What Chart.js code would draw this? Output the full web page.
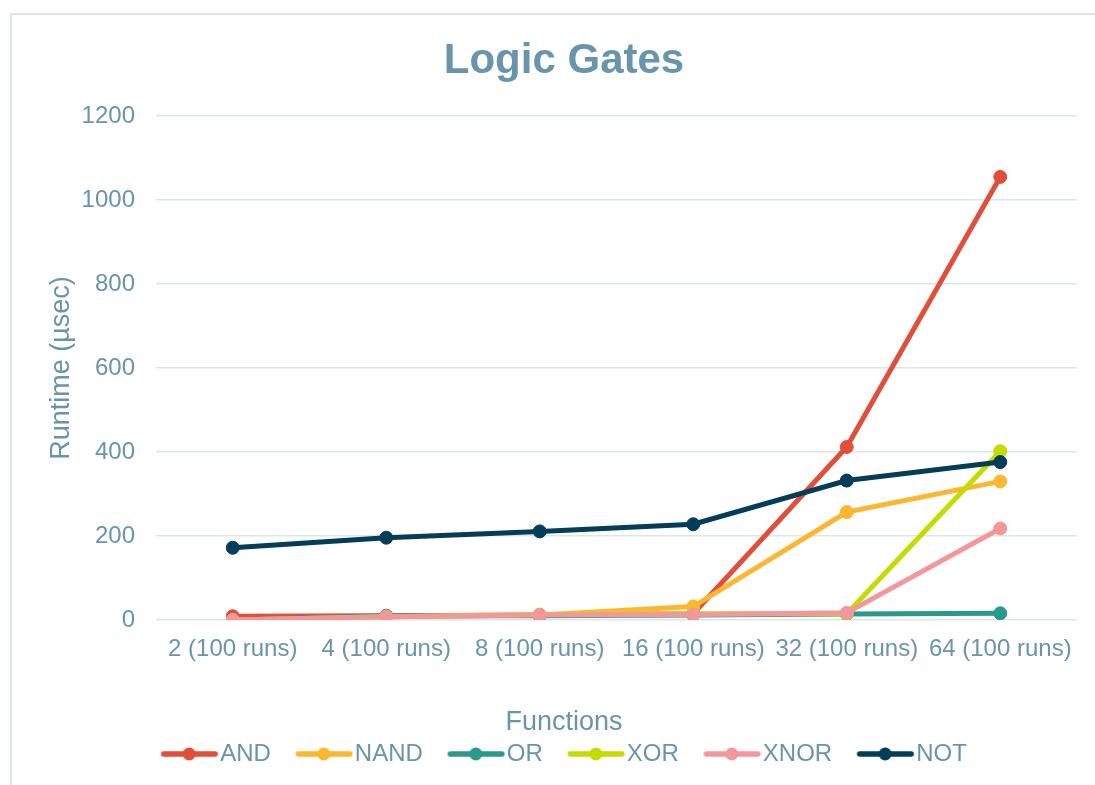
<!DOCTYPE html>
<html>
<head>
<meta charset="utf-8">
<title>Logic Gates</title>
<script src="https://cdn.jsdelivr.net/npm/chart.js@4/dist/chart.umd.min.js"></script>
<style>
  html, body { margin: 0; padding: 0; background: #ffffff; overflow: hidden; }
  body { width: 1095px; height: 785px; position: relative; }
  #frame {
    position: absolute; left: 10px; top: 13px; width: 1200px; height: 900px;
    border-left: 2px solid #dde6ee; border-top: 2px solid #dce6ea;
  }
  #wrap { position: absolute; left: 0; top: 0; width: 1095px; height: 785px; }
</style>
</head>
<body>
<div id="frame"></div>
<div id="wrap"><canvas id="chart" width="1095" height="785"></canvas></div>
<script>
// Benchmark runs per input size
const categories = ['2 (100 runs)', '4 (100 runs)', '8 (100 runs)', '16 (100 runs)', '32 (100 runs)', '64 (100 runs)'];

// Runtime in microseconds for each gate
const andValues  = [9, 10, 12, 15, 412, 1055];
const nandValues = [0, 8, 12, 32, 257, 330];
const orValues   = [0, 10, 10, 12, 14, 16];
const xorValues  = [0, 8, 13, 15, 15, 402];
const xnorValues = [0, 8, 12, 13, 17, 218];
const notValues  = [172, 196, 211, 228, 332, 376];

const seriesNames  = ['AND', 'NAND', 'OR', 'XOR', 'XNOR', 'NOT'];
const seriesValues = [andValues, nandValues, orValues, xorValues, xnorValues, notValues];
const seriesColors = ['#e14e39', '#fdb62f', '#29998a', '#c4dc00', '#f3979b', '#033d58'];

// Y axis tick settings
const yMin = 0, yMax = 1200, yStep = 200;

const textColor = '#6895ac';
const gridColor = '#dce5ea';
const fontFamily = '"Liberation Sans", Arial, sans-serif';

// Legend symbol: short line with a dot, shifted so the text sits close to it
function legendSymbol(color) {
  const c = document.createElement('canvas');
  c.width = 80; c.height = 16;
  const g = c.getContext('2d');
  g.strokeStyle = color;
  g.lineWidth = 5.5;
  g.lineCap = 'round';
  g.beginPath();
  g.moveTo(19, 8);
  g.lineTo(70.5, 8);
  g.stroke();
  g.fillStyle = color;
  g.beginPath();
  g.arc(44.5, 8, 6.5, 0, Math.PI * 2);
  g.fill();
  return c;
}
const symbols = seriesColors.map(legendSymbol);

const datasets = seriesNames.map((name, i) => ({
  label: name,
  data: seriesValues[i],
  borderColor: seriesColors[i],
  backgroundColor: seriesColors[i],
  pointBackgroundColor: seriesColors[i],
  pointBorderColor: seriesColors[i],
  borderWidth: 5,
  pointRadius: 6.5,
  pointBorderWidth: 1,
  tension: 0,
  // later series are painted over earlier ones
  order: seriesNames.length - i
}));

new Chart(document.getElementById('chart'), {
  type: 'line',
  data: { labels: categories, datasets },
  options: {
    responsive: false,
    animation: false,
    layout: { padding: { left: 43, right: 10, top: 0, bottom: 9 } },
    plugins: {
      tooltip: { enabled: false },
      title: {
        display: true,
        text: 'Logic Gates',
        color: textColor,
        font: { family: fontFamily, size: 42, weight: 'bold' },
        padding: { top: 36, bottom: 29.6 }
      },
      subtitle: {
        display: true,
        text: 'Functions',
        position: 'bottom',
        weight: 500,
        color: textColor,
        font: { family: fontFamily, size: 27 },
        padding: { top: 2, bottom: -21.4 }
      },
      legend: {
        position: 'bottom',
        weight: 1000,
        labels: {
          usePointStyle: true,
          pointStyleWidth: 47,
          padding: 25,
          color: textColor,
          font: { family: fontFamily, size: 24 },
          generateLabels: (chart) => chart.data.datasets.map((ds, i) => ({
            text: ds.label,
            fillStyle: ds.borderColor,
            strokeStyle: ds.borderColor,
            fontColor: textColor,
            lineWidth: 0,
            pointStyle: symbols[i],
            hidden: !chart.isDatasetVisible(i),
            datasetIndex: i
          }))
        }
      }
    },
    scales: {
      x: {
        offset: true,
        grid: { display: false, drawTicks: false },
        border: { display: false },
        ticks: {
          color: textColor,
          font: { family: fontFamily, size: 24 },
          padding: 15,
          maxRotation: 0,
          autoSkip: false
        },
        afterFit: (scale) => { scale.height = 84; }
      },
      y: {
        min: yMin,
        max: yMax,
        grid: { color: gridColor, lineWidth: 1.5, drawTicks: false },
        border: { display: false },
        ticks: {
          stepSize: yStep,
          color: textColor,
          font: { family: fontFamily, size: 24 },
          padding: 21,
          callback: (value) => String(value)
        },
        title: {
          display: true,
          text: 'Runtime (µsec)',
          color: textColor,
          font: { family: fontFamily, size: 27 },
          padding: { top: 2, bottom: 0 }
        },
        afterFit: (scale) => { scale.width = 113; }
      },
      // empty right-hand strip that keeps the plot edge clear of the frame
      yRight: {
        position: 'right',
        min: yMin,
        max: yMax,
        grid: { display: false, drawTicks: false },
        border: { display: false },
        ticks: { display: false },
        afterFit: (scale) => { scale.width = 8; }
      }
    }
  }
});
</script>
</body>
</html>
